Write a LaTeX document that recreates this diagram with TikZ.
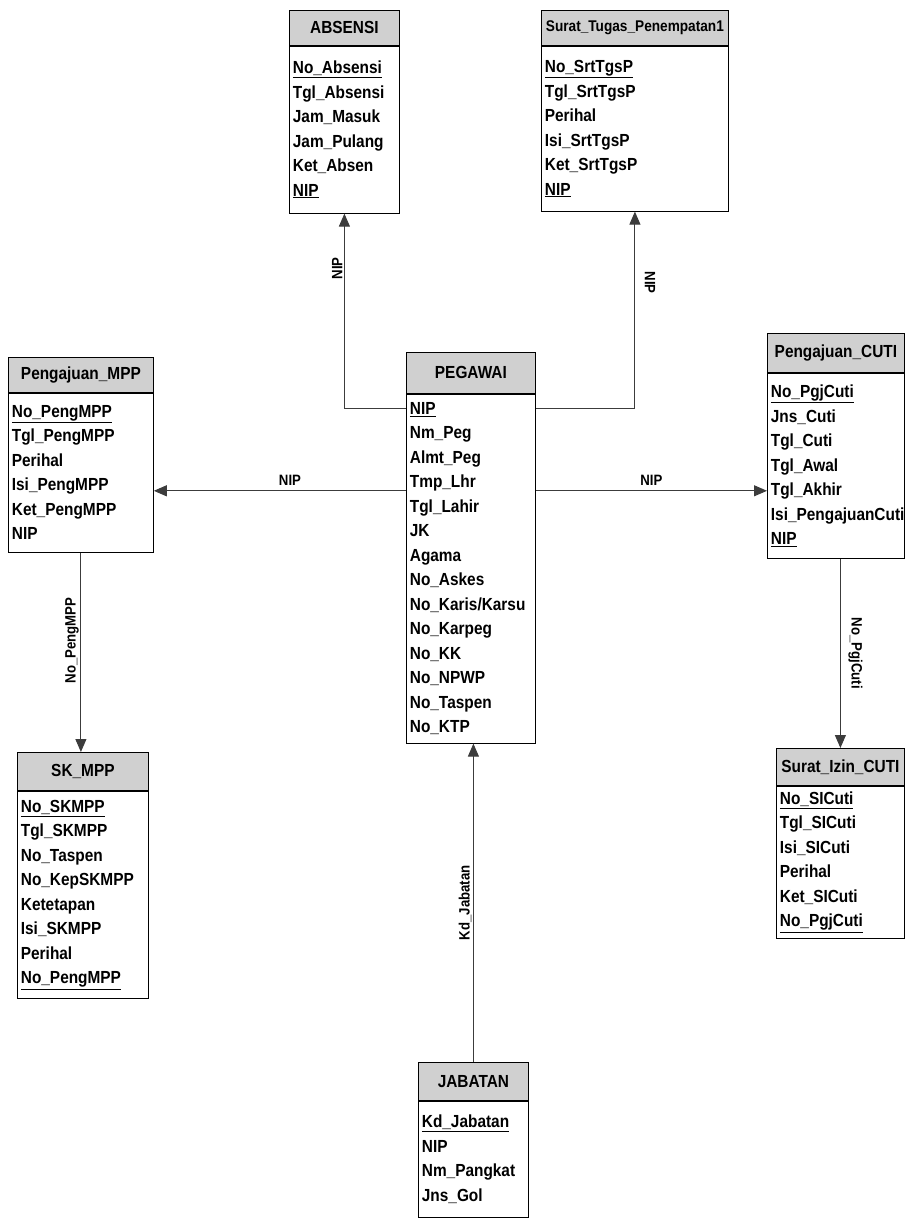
\documentclass[tikz,border=0pt]{standalone}
\usepackage{fontspec}
\newfontfamily\erfont{Liberation Sans}[FakeStretch=0.88]
\usetikzlibrary{positioning,arrows.meta}
\definecolor{hdrgray}{RGB}{208,208,208}
\definecolor{linegray}{RGB}{60,60,60}
\newcommand{\pk}[1]{\underline{#1}}

\tikzset{
  tblhead/.style={draw, thick, fill=hdrgray, anchor=north west, inner sep=0pt,
    font=\erfont\bfseries\fontsize{17.5}{20}\selectfont},
  tblbody/.style={draw, thick, fill=white, align=left, inner xsep=3.5pt, inner ysep=0pt,
    font=\erfont\bfseries\fontsize{17.5}{24.5}\selectfont},
  rel/.style={linegray, line width=1pt, -{Triangle[length=13pt,width=11pt]}},
  rlabel/.style={black, inner sep=1.5pt, font=\erfont\bfseries\fontsize{15}{17}\selectfont}
}

\begin{document}
\begin{tikzpicture}[x=1pt, y=-1pt]
\useasboundingbox (0,0) rectangle (904,1222);

% Tables
\node[tblhead, minimum width=110pt, minimum height=35pt] (absensi) at (289,10) {ABSENSI};
\node[tblbody, below=0pt of absensi, text width=103pt, minimum height=167pt] (absensiBody)
  {\pk{No\_Absensi}\\Tgl\_Absensi\\Jam\_Masuk\\Jam\_Pulang\\Ket\_Absen\\\pk{NIP}};

\node[tblhead, minimum width=187pt, minimum height=35pt,
  font=\erfont\bfseries\fontsize{15.5}{18}\selectfont] (surat) at (541,10) {Surat\_Tugas\_Penempatan1};
\node[tblbody, below=0pt of surat, text width=180pt, minimum height=165pt] (suratBody)
  {\pk{No\_SrtTgsP}\\Tgl\_SrtTgsP\\Perihal\\Isi\_SrtTgsP\\Ket\_SrtTgsP\\\pk{NIP}};

\node[tblhead, minimum width=145pt, minimum height=35pt] (mpp) at (8,357) {Pengajuan\_MPP};
\node[tblbody, below=0pt of mpp, text width=138pt, minimum height=159pt] (mppBody)
  {\pk{No\_PengMPP}\\Tgl\_PengMPP\\Perihal\\Isi\_PengMPP\\Ket\_PengMPP\\NIP};

\node[tblhead, minimum width=129pt, minimum height=41pt] (pegawai) at (406,352) {PEGAWAI};
\node[tblbody, below=0pt of pegawai, text width=122pt, minimum height=349pt] (pegawaiBody)
  {\pk{NIP}\\Nm\_Peg\\Almt\_Peg\\Tmp\_Lhr\\Tgl\_Lahir\\JK\\Agama\\No\_Askes\\No\_Karis/Karsu\\No\_Karpeg\\No\_KK\\No\_NPWP\\No\_Taspen\\No\_KTP};

\node[tblhead, minimum width=137pt, minimum height=39pt] (cuti) at (767,333) {Pengajuan\_CUTI};
\node[tblbody, below=0pt of cuti, text width=130pt, minimum height=185pt] (cutiBody)
  {\pk{No\_PgjCuti}\\Jns\_Cuti\\Tgl\_Cuti\\Tgl\_Awal\\Tgl\_Akhir\\Isi\_PengajuanCuti\\\pk{NIP}};

\node[tblhead, minimum width=128pt, minimum height=37pt] (izin) at (776,748) {Surat\_Izin\_CUTI};
\node[tblbody, below=0pt of izin, text width=121pt, minimum height=152pt] (izinBody)
  {\pk{No\_SICuti}\\Tgl\_SICuti\\Isi\_SICuti\\Perihal\\Ket\_SICuti\\\pk{No\_PgjCuti}};

\node[tblhead, minimum width=131pt, minimum height=38pt] (sk) at (17,752) {SK\_MPP};
\node[tblbody, below=0pt of sk, text width=124pt, minimum height=207pt] (skBody)
  {\pk{No\_SKMPP}\\Tgl\_SKMPP\\No\_Taspen\\No\_KepSKMPP\\Ketetapan\\Isi\_SKMPP\\Perihal\\\pk{No\_PengMPP}};

\node[tblhead, minimum width=110pt, minimum height=38pt] (jabatan) at (418,1062) {JABATAN};
\node[tblbody, below=0pt of jabatan, text width=103pt, minimum height=116pt] (jabatanBody)
  {\pk{Kd\_Jabatan}\\NIP\\Nm\_Pangkat\\Jns\_Gol};

% Relations
\coordinate (pegUpL) at ([yshift=-15pt]pegawaiBody.north west);
\coordinate (pegUpR) at ([yshift=-15pt]pegawaiBody.north east);
\coordinate (pegMidL) at ([yshift=-97pt]pegawaiBody.north west);
\coordinate (pegMidR) at ([yshift=-97pt]pegawaiBody.north east);

\draw[rel] (pegUpL) -| (absensiBody.south) node[rlabel, pos=0.86, rotate=90, anchor=south] {NIP};
\draw[rel] (pegUpR) -| (suratBody.south) node[rlabel, pos=0.82, rotate=-90, anchor=south, yshift=8pt] {NIP};
\draw[rel] (pegMidL) -- (pegMidL -| mppBody.east) node[rlabel, pos=0.46, above=3pt] {NIP};
\draw[rel] (pegMidR) -- (pegMidR -| cutiBody.west) node[rlabel, midway, above=3pt] {NIP};
\draw[rel] (mppBody.south) -- (mppBody.south |- sk.north) node[rlabel, pos=0.44, rotate=90, anchor=south] {No\_PengMPP};
\draw[rel] (izin.north |- cutiBody.south) -- (izin.north) node[rlabel, midway, rotate=-90, anchor=south, yshift=6pt] {No\_PgjCuti};
\draw[rel] (jabatan.north) -- (jabatan.north |- pegawaiBody.south) node[rlabel, midway, rotate=90, anchor=south] {Kd\_Jabatan};

\end{tikzpicture}
\end{document}
